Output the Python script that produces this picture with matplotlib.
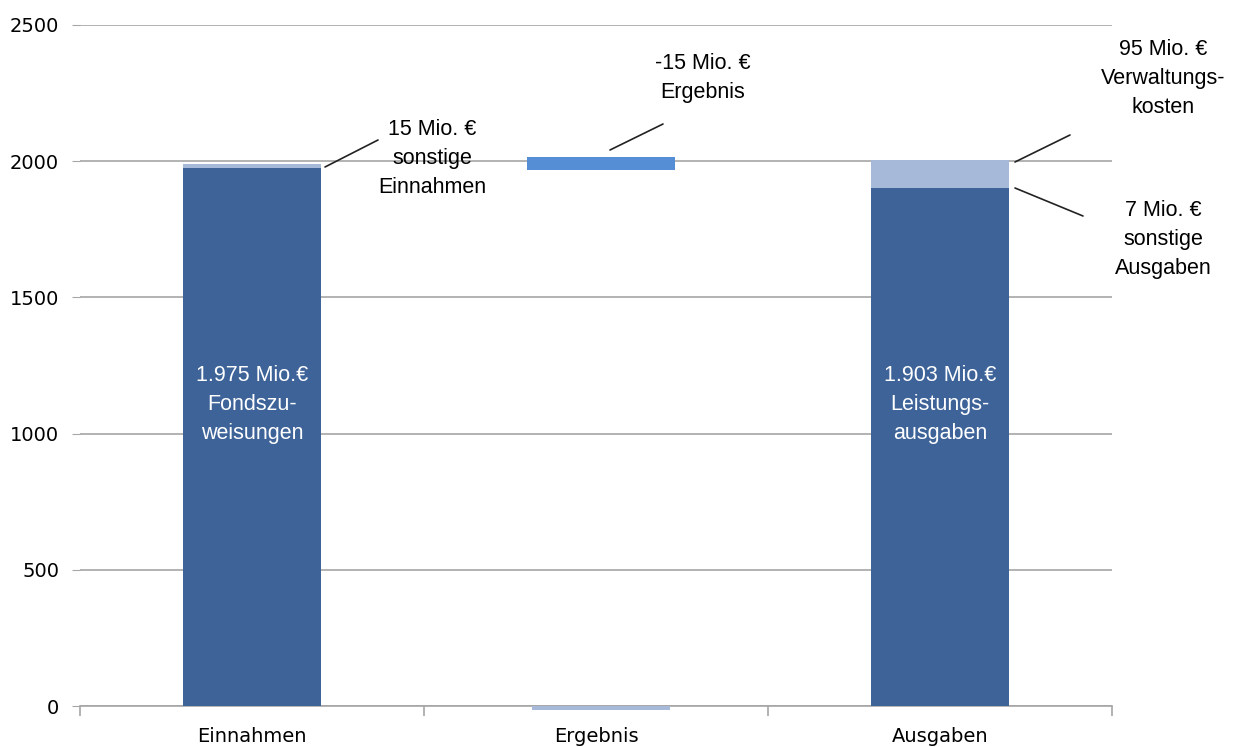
import matplotlib
matplotlib.use("Agg")
import matplotlib.pyplot as plt
import numpy as np

categories = ["Einnahmen", "Ergebnis", "Ausgaben"]
# stacked series (Mio. €)
main_vals = [1975, 0, 1903]          # Fondszuweisungen / Leistungsausgaben
small_vals = [15, -15, 7]            # sonstige Einnahmen / Ergebnis / sonstige Ausgaben
admin_vals = [0, 0, 95]              # Verwaltungskosten
result_bottom = 1968                 # floating Ergebnis marker
result_top = 2015
yticks = [0, 500, 1000, 1500, 2000, 2500]

dark = "#3D6399"
light = "#A6B9D8"
mid = "#558ED5"
grid_c = "#A6A6A6"

fig = plt.figure(figsize=(12.39, 7.47), dpi=100)
ax = fig.add_axes([80/1239, 1-706/747, (1112-80)/1239, (706-25)/747])

x = np.arange(len(categories))
w = 0.4
ax.bar(x, main_vals, width=w, color=dark, zorder=3)
ax.bar(x, small_vals, width=w, bottom=main_vals, color=light, zorder=3)
ax.bar(x[2], admin_vals[2], width=w, bottom=main_vals[2] + small_vals[2], color=light, zorder=3)
# Ergebnis: thin light bar below zero and floating marker
ax.bar(x[1] + 0.015, small_vals[1], width=0.4, bottom=0, color=light, zorder=3, clip_on=False)
ax.bar(x[1] + 0.015, result_top - result_bottom, width=0.43, bottom=result_bottom, color=mid, zorder=3)

ax.set_xlim(-0.5, 2.5)
ax.set_ylim(0, 2500)
ax.set_yticks(yticks)
ax.set_yticklabels([str(t) for t in yticks], fontsize=14, family="DejaVu Sans")
ax.yaxis.grid(True, color=grid_c, linewidth=1.2, zorder=0)
ax.tick_params(axis="y", length=6, color=grid_c, pad=9)
for s in ["top", "right", "left"]:
    ax.spines[s].set_visible(False)
ax.spines["bottom"].set_color(grid_c)
ax.spines["bottom"].set_linewidth(1.2)
ax.spines["bottom"].set_zorder(2)

ax.set_xticks(x)
ax.set_xticklabels(categories, fontsize=14, family="DejaVu Sans")
ax.tick_params(axis="x", which="major", length=0, pad=15)
ax.set_xticks(np.arange(-0.5, 3.0, 1.0), minor=True)
ax.tick_params(axis="x", which="minor", length=7, color=grid_c, width=1.2)

def px2x(px):
    return (px - 80) / 344 - 0.5

def py2y(py):
    return (706 - py) / (681 / 2500)

tfont = dict(fontsize=15.5, family="Liberation Sans", ha="center", va="center", linespacing=1.5)

# leader lines
lines = [((325, 167), (378, 140)),
         ((610, 150), (663, 124)),
         ((1015, 162), (1070, 135)),
         ((1015, 188), (1083, 216))]
for (a, b) in lines:
    ax.annotate("", xy=(px2x(a[0]), py2y(a[1])), xytext=(px2x(b[0]), py2y(b[1])),
                arrowprops=dict(arrowstyle="-", color="#222222", lw=1.2, shrinkA=0, shrinkB=0),
                annotation_clip=False)

ax.text(px2x(432), py2y(159), "15 Mio. €\nsonstige\nEinnahmen", color="black", clip_on=False, **tfont)
ax.text(px2x(703), py2y(78), "-15 Mio. €\nErgebnis", color="black", clip_on=False, **tfont)
ax.text(px2x(1163), py2y(79), "95 Mio. €\nVerwaltungs-\nkosten", color="black", clip_on=False, **tfont)
ax.text(px2x(1163), py2y(240), "7 Mio. €\nsonstige\nAusgaben", color="black", clip_on=False, **tfont)

ax.text(x[0], py2y(405), "1.975 Mio.€\nFondszu-\nweisungen", color="white", zorder=4, **tfont)
ax.text(x[2], py2y(405), "1.903 Mio.€\nLeistungs-\nausgaben", color="white", zorder=4, **tfont)

fig.savefig("out.png", dpi=100)
